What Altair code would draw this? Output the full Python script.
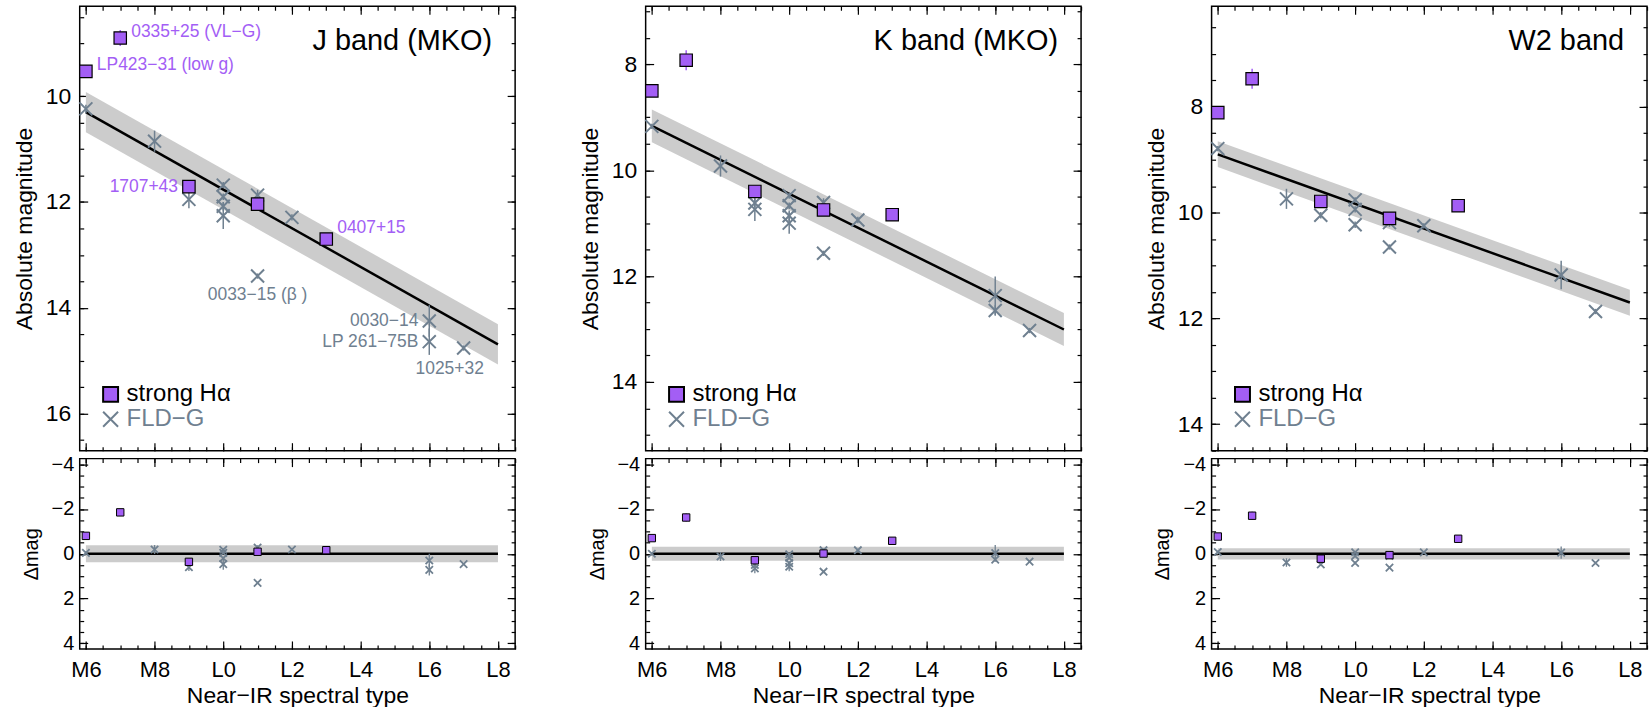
import altair as alt
import pandas as pd

FONT = "Liberation Sans"
PURPLE = "#A35EF5"
GRAY = "#6F8090"
BAND_COLOR = "#CCCCCC"
XPATH = "M-1,-1L1,1M-1,1L1,-1"
GROUPS = ["strong Hα", "FLD−G"]

W, H, H2 = 437, 446, 191
SPT_DOMAIN = [5.82, 18.5]
RES_DOMAIN = [-4.25, 4.25]

# spectral type coded numerically: M6=6 ... M9=9, L0=10 ... L8=18
SPT_MAJOR = [6, 8, 10, 12, 14, 16, 18]
SPT_LABELS = ["M6", "M8", "L0", "L2", "L4", "L6", "L8"]
SPT_MINOR = [v / 2 for v in range(12, 38)]
RES_MAJOR = [-4, -2, 0, 2, 4]
RES_MINOR = [v / 2 for v in range(-8, 9)]

FIT_SPT = [6, 18]

# ---------------- J band ----------------
J_YDOM = [8.3, 16.7]
J_YMAJ = [10, 12, 14, 16]
J_YMIN = [v / 2 for v in range(17, 34)]
J_FIT = [10.30, 14.69]
J_BAND_LO = [9.92, 14.31]
J_BAND_HI = [10.68, 15.07]
J_RES_BAND = [-0.38, 0.38]
J_STRONG_SPT = [6, 7, 9, 11, 13]
J_STRONG_MAG = [9.53, 8.90, 11.71, 12.04, 12.70]
J_STRONG_ERR = [0.05, 0.15, 0.05, 0.10, 0.05]
J_STRONG_RES = [-0.80, -1.85, 0.36, -0.09, -0.16]
J_FLD_SPT = [6, 8, 9, 10, 10, 10, 10, 11, 11, 12, 16, 16, 17]
J_FLD_MAG = [10.24, 10.85, 11.95, 11.68, 11.90, 12.08, 12.26, 11.87, 13.40, 12.29, 14.25, 14.64, 14.76]
J_FLD_ERR = [0.08, 0.20, 0.17, 0.06, 0.06, 0.08, 0.25, 0.10, 0.05, 0.06, 0.30, 0.25, 0.05]
J_FLD_RES = [-0.04, -0.19, 0.60, -0.18, -0.04, 0.20, 0.46, -0.28, 1.30, -0.19, 0.30, 0.72, 0.46]
J_ANN_TEXT = ["0335+25 (VL−G)", "LP423−31 (low g)", "1707+43", "0407+15",
              "0033−15 (β )", "0030−14", "LP 261−75B", "1025+32"]
J_ANN_SPT = [7, 6, 9, 13, 11, 16, 16, 17]
J_ANN_MAG = [8.90, 9.53, 11.71, 12.70, 13.40, 14.25, 14.64, 14.76]
# style of each annotation: colour, align, dx, dy
J_ANN_STYLE = [
    (PURPLE, "left", 11, -6),
    (PURPLE, "left", 11, -6),
    (PURPLE, "right", -11, 0),
    (PURPLE, "left", 11, -11),
    (GRAY, "center", 0, 19),
    (GRAY, "right", -11, 0),
    (GRAY, "right", -11, 0),
    (GRAY, "center", -14, 21),
]

# ---------------- K band ----------------
K_YDOM = [6.9, 15.3]
K_YMAJ = [8, 10, 12, 14]
K_YMIN = [v / 2 for v in range(14, 31)]
K_FIT = [9.16, 13.01]
K_BAND_LO = [8.85, 12.70]
K_BAND_HI = [9.47, 13.32]
K_RES_BAND = [-0.31, 0.31]
K_STRONG_SPT = [6, 7, 9, 11, 13]
K_STRONG_MAG = [8.50, 7.92, 10.40, 10.75, 10.84]
K_STRONG_ERR = [0.05, 0.19, 0.05, 0.10, 0.05]
K_STRONG_RES = [-0.70, -1.62, 0.29, -0.01, -0.58]
K_FLD_SPT = [6, 8, 9, 9, 10, 10, 10, 10, 11, 11, 12, 16, 16, 17]
K_FLD_MAG = [9.17, 9.92, 10.62, 10.74, 10.48, 10.67, 10.86, 11.00, 10.61, 11.57, 10.94, 12.37, 12.65, 13.03]
K_FLD_ERR = [0.05, 0.20, 0.08, 0.22, 0.06, 0.06, 0.10, 0.20, 0.08, 0.05, 0.06, 0.36, 0.10, 0.05]
K_FLD_RES = [0.00, 0.12, 0.50, 0.65, 0.02, 0.18, 0.42, 0.58, -0.16, 0.80, -0.16, -0.03, 0.26, 0.35]

# ---------------- W2 band ----------------
W_YDOM = [6.1, 14.5]
W_YMAJ = [8, 10, 12, 14]
W_YMIN = [v / 2 for v in range(13, 30)]
W_FIT = [8.90, 11.70]
W_BAND_LO = [8.65, 11.46]
W_BAND_HI = [9.14, 11.95]
W_RES_BAND = [-0.25, 0.25]
W_STRONG_SPT = [6, 7, 9, 11, 13]
W_STRONG_MAG = [8.11, 7.47, 9.79, 10.11, 9.87]
W_STRONG_ERR = [0.05, 0.19, 0.05, 0.08, 0.05]
W_STRONG_RES = [-0.77, -1.70, 0.22, 0.06, -0.67]
W_FLD_SPT = [6, 8, 9, 10, 10, 10, 11, 11, 12, 16, 17]
W_FLD_MAG = [8.79, 9.74, 10.05, 9.76, 9.94, 10.23, 10.19, 10.65, 10.25, 11.18, 11.87]
W_FLD_ERR = [0.05, 0.19, 0.06, 0.05, 0.06, 0.06, 0.08, 0.05, 0.05, 0.27, 0.05]
W_FLD_RES = [-0.08, 0.39, 0.48, -0.07, 0.10, 0.41, 0.10, 0.62, -0.06, -0.05, 0.41]

LABEL_EXPR = " : ".join(f"datum.value == {v} ? '{l}'" for v, l in zip(SPT_MAJOR, SPT_LABELS)) + " : ''"

LEGEND = alt.Legend(
    title=None, orient="none", legendX=19, legendY=379, padding=0,
    labelFontSize=24, labelFont=FONT, labelOffset=4, rowPadding=0, clipHeight=21,
    labelColor={"expr": f"indexof(datum.label, 'FLD') >= 0 ? '{GRAY}' : 'black'"},
    symbolSize=225, symbolStrokeWidth=2, symbolOpacity=1,
)


def tick_axis(orient, offset, values, size):
    return alt.Axis(orient=orient, offset=offset, values=values, tickSize=size,
                    labels=False, domain=False, grid=False, title=None,
                    ticks=True, tickColor="black", tickWidth=1.2)


def group_enc():
    return dict(
        shape=alt.Shape("grp:N", scale=alt.Scale(domain=GROUPS, range=["square", XPATH]), legend=LEGEND),
        fill=alt.Fill("grp:N", scale=alt.Scale(domain=GROUPS, range=[PURPLE, "transparent"]), legend=LEGEND),
        stroke=alt.Stroke("grp:N", scale=alt.Scale(domain=GROUPS, range=["black", GRAY]), legend=LEGEND),
    )


def build_upper(title, ydom, ymaj, ymin, fit, blo, bhi,
                s_spt, s_mag, s_err, f_spt, f_mag, f_err, ann=None):
    xs = alt.Scale(domain=SPT_DOMAIN, nice=False, zero=False)
    ys = alt.Scale(domain=ydom, reverse=True, nice=False, zero=False)
    ylab = alt.Axis(orient="left", values=ymaj, format="d", ticks=False, tickSize=0,
                    domain=False, grid=False, labelPadding=9, labelFontSize=23,
                    labelFlush=False, title="Absolute magnitude", titleFontSize=23,
                    titlePadding=9)
    ax_x = [tick_axis("top", -H, SPT_MAJOR, 8), tick_axis("top", -H, SPT_MINOR, 4),
            tick_axis("bottom", -H, SPT_MAJOR, 8), tick_axis("bottom", -H, SPT_MINOR, 4), None]
    ax_y = [ylab, tick_axis("right", -W, ymaj, 8), tick_axis("right", -W, ymin, 4),
            tick_axis("left", -W, ymaj, 8), tick_axis("left", -W, ymin, 4)]

    band_df = pd.DataFrame({"spt": FIT_SPT, "lo": blo, "hi": bhi})
    fit_df = pd.DataFrame({"spt": FIT_SPT, "mag": fit})
    s_df = pd.DataFrame({"spt": s_spt, "mag": s_mag, "err": s_err, "grp": GROUPS[0]})
    f_df = pd.DataFrame({"spt": f_spt, "mag": f_mag, "err": f_err, "grp": GROUPS[1]})

    band = alt.Chart(band_df).mark_area(color=BAND_COLOR, opacity=1).encode(
        x=alt.X("spt:Q", scale=xs, axis=ax_x[0]),
        y=alt.Y("lo:Q", scale=ys, axis=ax_y[0]), y2="hi:Q")
    line = alt.Chart(fit_df).mark_line(color="black", strokeWidth=2.5).encode(
        x=alt.X("spt:Q", scale=xs, axis=ax_x[1]),
        y=alt.Y("mag:Q", scale=ys, axis=ax_y[1]))
    errf = alt.Chart(f_df).transform_calculate(
        lo="datum.mag - datum.err", hi="datum.mag + datum.err"
    ).mark_rule(color=GRAY, strokeWidth=1.5).encode(
        x=alt.X("spt:Q", scale=xs, axis=ax_x[2]),
        y=alt.Y("lo:Q", scale=ys, axis=ax_y[2]), y2="hi:Q")
    errs = alt.Chart(s_df).transform_calculate(
        lo="datum.mag - datum.err", hi="datum.mag + datum.err"
    ).mark_rule(color=PURPLE, strokeWidth=1.5).encode(
        x=alt.X("spt:Q", scale=xs, axis=ax_x[3]),
        y=alt.Y("lo:Q", scale=ys, axis=ax_y[3]), y2="hi:Q")
    xpts = alt.Chart(f_df).mark_point(filled=True, opacity=1, size=170, strokeWidth=2).encode(
        x=alt.X("spt:Q", scale=xs, axis=ax_x[4]),
        y=alt.Y("mag:Q", scale=ys, axis=ax_y[4]), **group_enc())
    sq = alt.Chart(s_df).mark_point(filled=True, opacity=1, size=155, strokeWidth=1.2).encode(
        x=alt.X("spt:Q", scale=xs, axis=None),
        y=alt.Y("mag:Q", scale=ys, axis=None), **group_enc())
    layers = [band, line, errf, errs, xpts, sq]
    if ann is not None:
        texts, spts, mags, styles = ann
        for t, sp, mg, (col, al, dx, dy) in zip(texts, spts, mags, styles):
            tdf = pd.DataFrame({"spt": [sp], "mag": [mg], "label": [t]})
            layers.append(alt.Chart(tdf).mark_text(
                align=al, baseline="middle", dx=dx, dy=dy, fontSize=17.5, font=FONT, color=col
            ).encode(x=alt.X("spt:Q", scale=xs, axis=None),
                     y=alt.Y("mag:Q", scale=ys, axis=None), text="label:N"))
    return alt.layer(*layers).resolve_axis(x="independent", y="independent").properties(
        width=W, height=H,
        title=alt.TitleParams(title, anchor="end", orient="top", frame="group", offset=-50,
                              dx=-23, fontSize=29, font=FONT, fontWeight="normal", color="black"))


def build_lower(rband, s_spt, s_res, s_err, f_spt, f_res, f_err):
    xs = alt.Scale(domain=SPT_DOMAIN, nice=False, zero=False)
    ys = alt.Scale(domain=RES_DOMAIN, reverse=True, nice=False, zero=False)
    xlab = alt.Axis(orient="bottom", values=SPT_MAJOR, labelExpr=LABEL_EXPR, ticks=False,
                    tickSize=0, domain=False, grid=False, labelPadding=11, labelFontSize=22,
                    labelFlush=False, title="Near−IR spectral type", titleFontSize=23,
                    titlePadding=4)
    ylab = alt.Axis(orient="left", values=RES_MAJOR, format="d", ticks=False, tickSize=0,
                    domain=False, grid=False, labelPadding=6, labelFontSize=20,
                    labelFlush=False, title="Δmag", titleFontSize=20, titlePadding=10)
    ax_x = [xlab, tick_axis("top", -H2, SPT_MAJOR, 8), tick_axis("top", -H2, SPT_MINOR, 4),
            tick_axis("bottom", -H2, SPT_MAJOR, 8), tick_axis("bottom", -H2, SPT_MINOR, 4)]
    ax_y = [ylab, tick_axis("right", -W, RES_MAJOR, 8), tick_axis("right", -W, RES_MINOR, 4),
            tick_axis("left", -W, RES_MAJOR, 8), tick_axis("left", -W, RES_MINOR, 4)]

    band_df = pd.DataFrame({"spt": FIT_SPT, "lo": [rband[0]] * 2, "hi": [rband[1]] * 2})
    zero_df = pd.DataFrame({"spt": FIT_SPT, "res": [0, 0]})
    s_df = pd.DataFrame({"spt": s_spt, "res": s_res, "err": s_err})
    f_df = pd.DataFrame({"spt": f_spt, "res": f_res, "err": f_err})

    band = alt.Chart(band_df).mark_area(color=BAND_COLOR, opacity=1).encode(
        x=alt.X("spt:Q", scale=xs, axis=ax_x[0]),
        y=alt.Y("lo:Q", scale=ys, axis=ax_y[0]), y2="hi:Q")
    zero = alt.Chart(zero_df).mark_line(color="black", strokeWidth=2.5).encode(
        x=alt.X("spt:Q", scale=xs, axis=ax_x[1]),
        y=alt.Y("res:Q", scale=ys, axis=ax_y[1]))
    errf = alt.Chart(f_df).transform_calculate(
        lo="datum.res - datum.err", hi="datum.res + datum.err"
    ).mark_rule(color=GRAY, strokeWidth=1.3).encode(
        x=alt.X("spt:Q", scale=xs, axis=ax_x[2]),
        y=alt.Y("lo:Q", scale=ys, axis=ax_y[2]), y2="hi:Q")
    errs = alt.Chart(s_df).transform_calculate(
        lo="datum.res - datum.err", hi="datum.res + datum.err"
    ).mark_rule(color=PURPLE, strokeWidth=1.3).encode(
        x=alt.X("spt:Q", scale=xs, axis=ax_x[3]),
        y=alt.Y("lo:Q", scale=ys, axis=ax_y[3]), y2="hi:Q")
    xpts = alt.Chart(f_df).mark_point(shape=XPATH, filled=False, opacity=1, size=55,
                                      strokeWidth=1.8, color=GRAY).encode(
        x=alt.X("spt:Q", scale=xs, axis=ax_x[4]),
        y=alt.Y("res:Q", scale=ys, axis=ax_y[4]))
    sq = alt.Chart(s_df).mark_point(shape="square", filled=True, opacity=1, size=55,
                                    fill=PURPLE, stroke="black", strokeWidth=1).encode(
        x=alt.X("spt:Q", scale=xs, axis=None),
        y=alt.Y("res:Q", scale=ys, axis=None))
    return alt.layer(band, zero, errf, errs, xpts, sq).resolve_axis(
        x="independent", y="independent").properties(width=W, height=H2)


def column(upper, lower):
    return alt.vconcat(upper, lower, spacing=0).resolve_scale(
        shape="independent", fill="independent", stroke="independent")


colJ = column(
    build_upper("J band (MKO)", J_YDOM, J_YMAJ, J_YMIN, J_FIT, J_BAND_LO, J_BAND_HI,
                J_STRONG_SPT, J_STRONG_MAG, J_STRONG_ERR, J_FLD_SPT, J_FLD_MAG, J_FLD_ERR,
                ann=(J_ANN_TEXT, J_ANN_SPT, J_ANN_MAG, J_ANN_STYLE)),
    build_lower(J_RES_BAND, J_STRONG_SPT, J_STRONG_RES, J_STRONG_ERR,
                J_FLD_SPT, J_FLD_RES, J_FLD_ERR))
colK = column(
    build_upper("K band (MKO)", K_YDOM, K_YMAJ, K_YMIN, K_FIT, K_BAND_LO, K_BAND_HI,
                K_STRONG_SPT, K_STRONG_MAG, K_STRONG_ERR, K_FLD_SPT, K_FLD_MAG, K_FLD_ERR),
    build_lower(K_RES_BAND, K_STRONG_SPT, K_STRONG_RES, K_STRONG_ERR,
                K_FLD_SPT, K_FLD_RES, K_FLD_ERR))
colW = column(
    build_upper("W2 band", W_YDOM, W_YMAJ, W_YMIN, W_FIT, W_BAND_LO, W_BAND_HI,
                W_STRONG_SPT, W_STRONG_MAG, W_STRONG_ERR, W_FLD_SPT, W_FLD_MAG, W_FLD_ERR),
    build_lower(W_RES_BAND, W_STRONG_SPT, W_STRONG_RES, W_STRONG_ERR,
                W_FLD_SPT, W_FLD_RES, W_FLD_ERR))

chart = alt.hconcat(colJ, colK, colW, spacing=61).resolve_scale(
    shape="independent", fill="independent", stroke="independent"
).properties(
    padding={"left": 12, "top": 3, "right": 2, "bottom": 0}, background="white"
).configure_view(stroke="black", strokeWidth=1.5).configure_axis(
    labelFont=FONT, titleFont=FONT, labelColor="black", titleColor="black",
    titleFontWeight="normal"
).configure_title(font=FONT, fontWeight="normal")

chart.save("out.html", embed_options={"renderer": "svg", "actions": False})
